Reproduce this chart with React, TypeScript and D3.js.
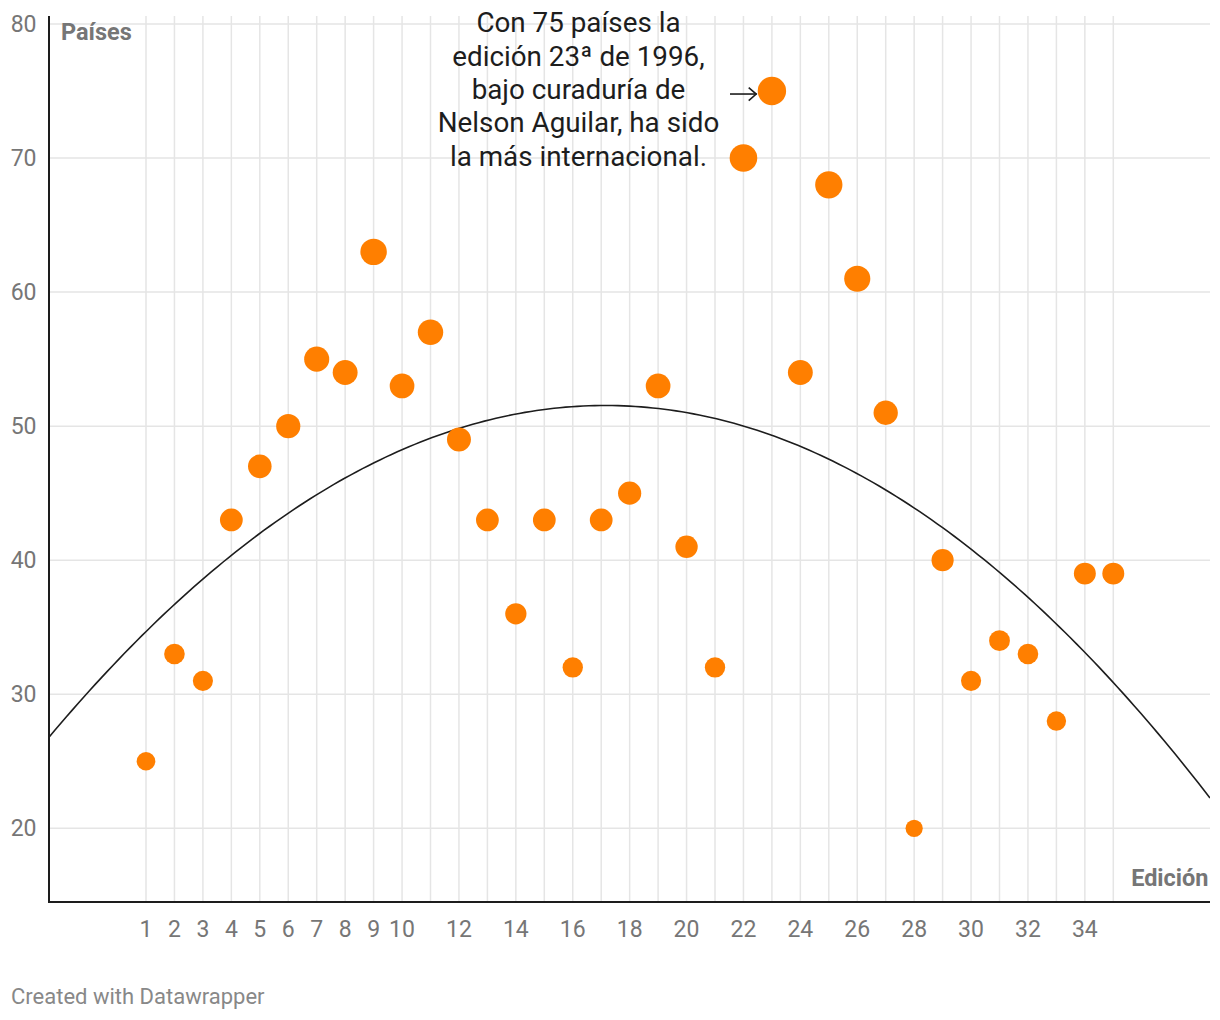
import React from "react";
import * as d3 from "d3";

const editions: number[] = [1,2,3,4,5,6,7,8,9,10,11,12,13,14,15,16,17,18,19,20,21,22,23,24,25,26,27,28,29,30,31,32,33,34,35];
const countries: number[] = [25,33,31,43,47,50,55,54,63,53,57,49,43,36,43,32,43,45,53,41,32,70,75,54,68,61,51,20,40,31,34,33,28,39,39];
const xTickValues: number[] = [1,2,3,4,5,6,7,8,9,10,12,14,16,18,20,22,24,26,28,30,32,34];
const yTickValues: number[] = [20,30,40,50,60,70,80];
const annotationLines: string[] = [
  "Con 75 países la",
  "edición 23ª de 1996,",
  "bajo curaduría de",
  "Nelson Aguilar, ha sido",
  "la más internacional.",
];

const W = 1220, H = 1020;
const FONT = "Roboto, 'Noto Sans', sans-serif";

function quadFit(xs: number[], ys: number[]): [number, number, number] {
  let s0 = 0, s1 = 0, s2 = 0, s3 = 0, s4 = 0, t0 = 0, t1 = 0, t2 = 0;
  xs.forEach((x, i) => {
    const y = ys[i];
    s0 += 1; s1 += x; s2 += x * x; s3 += x * x * x; s4 += x * x * x * x;
    t0 += y; t1 += x * y; t2 += x * x * y;
  });
  const M = [[s0, s1, s2, t0], [s1, s2, s3, t1], [s2, s3, s4, t2]];
  for (let i = 0; i < 3; i++) {
    for (let j = i + 1; j < 3; j++) {
      const f = M[j][i] / M[i][i];
      for (let k = i; k < 4; k++) M[j][k] -= f * M[i][k];
    }
  }
  const r = [0, 0, 0];
  for (let i = 2; i >= 0; i--) {
    let s = M[i][3];
    for (let k = i + 1; k < 3; k++) s -= M[i][k] * r[k];
    r[i] = s / M[i][i];
  }
  return [r[0], r[1], r[2]];
}

export default function App() {
  const left = 49, right = 1210, top = 16, bottom = 902;
  const x = d3.scaleLinear().domain([1, 35]).range([146, 1113.3]);
  const y = d3.scaleLinear().domain([20, 80]).range([828.3, 24]);
  const r = d3.scaleSqrt().domain([20, 75]).range([8.6, 14.2]);

  const xMin = x.invert(left), xMax = x.invert(right);
  const [a, b, c] = quadFit(editions, countries);
  const samples = d3.range(0, 201).map((i) => xMin + (xMax - xMin) * i / 200);
  const line = d3.line<number>().x((v) => x(v)).y((v) => y(a + b * v + c * v * v));

  const annX = 578.5;
  const annY0 = 32.3;
  const lh = 33.35;
  const hi = countries.indexOf(d3.max(countries) as number);
  const hx = x(editions[hi]), hy = y(countries[hi]);
  const hr = r(countries[hi]);

  return (
    <svg width={W} height={H} style={{ position: "absolute", left: 0, top: 0, background: "#fff" }}>
      <defs>
        <clipPath id="plot">
          <rect x={left} y={top} width={right - left} height={bottom - top} />
        </clipPath>
      </defs>
      {yTickValues.map((t) => (
        <line key={"gy" + t} x1={left} x2={right} y1={y(t)} y2={y(t)} stroke="#e5e5e5" strokeWidth={1.5} />
      ))}
      {editions.map((t) => (
        <line key={"gx" + t} x1={x(t)} x2={x(t)} y1={top} y2={bottom} stroke="#e5e5e5" strokeWidth={1.5} />
      ))}
      <path d={line(samples) || ""} fill="none" stroke="#1d1d1d" strokeWidth={1.6} clipPath="url(#plot)" />
      {editions.map((e, i) => (
        <circle key={"d" + e} cx={x(e)} cy={y(countries[i])} r={r(countries[i])} fill="#ff7f00" />
      ))}
      <line x1={left} x2={left} y1={top} y2={bottom + 1} stroke="#1d1d1d" strokeWidth={2} />
      <line x1={left - 1} x2={right} y1={bottom} y2={bottom} stroke="#1d1d1d" strokeWidth={2} />
      {yTickValues.map((t) => (
        <text key={"ty" + t} x={36.5} y={y(t)} dy="0.35em" textAnchor="end" fontFamily={FONT} fontSize={23} fill="#767676">{t}</text>
      ))}
      {xTickValues.map((t) => (
        <text key={"tx" + t} x={x(t)} y={929} dy="0.35em" textAnchor="middle" fontFamily={FONT} fontSize={23} fill="#767676">{t}</text>
      ))}
      <text x={61} y={40} fontFamily={FONT} fontSize={23.5} fontWeight={700} fill="#767676">Países</text>
      <text x={1208.5} y={886} textAnchor="end" fontFamily={FONT} fontSize={23.5} fontWeight={700} fill="#767676">Edición</text>
      {annotationLines.map((l, i) => (
        <text key={"a" + i} x={annX} y={annY0 + i * lh} textAnchor="middle" fontFamily={FONT} fontSize={27.8} fill="#1d1d1d">{l}</text>
      ))}
      <g stroke="#1d1d1d" strokeWidth={1.6} fill="none">
        <line x1={730} x2={hx - hr - 1} y1={hy + 3} y2={hy + 3} />
        <path d={`M${hx - hr - 9},${hy - 3.5} L${hx - hr - 1.5},${hy + 3} L${hx - hr - 9},${hy + 9.5}`} />
      </g>
      <text x={11} y={1004} fontFamily={FONT} fontSize={22} fill="#888">Created with Datawrapper</text>
    </svg>
  );
}
